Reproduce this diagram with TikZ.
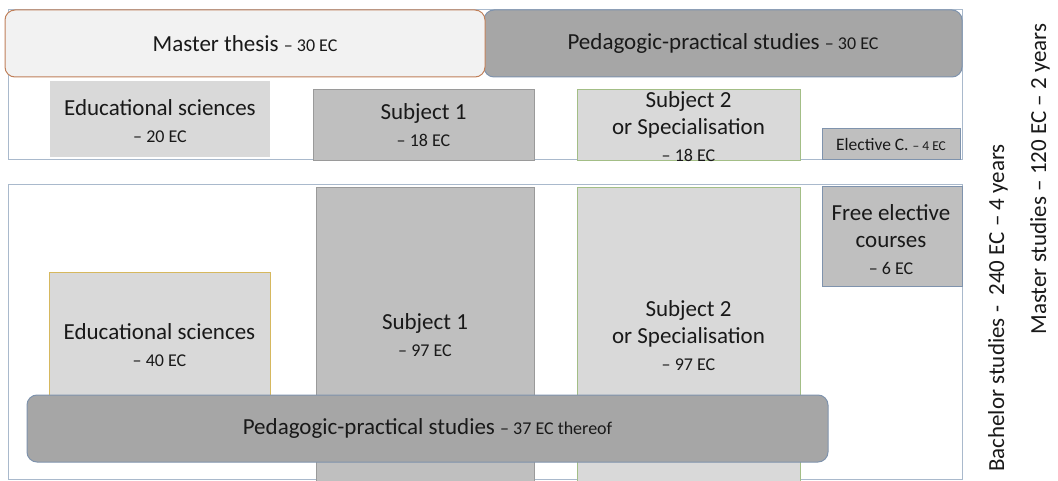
\documentclass[tikz,border=0pt]{standalone}
\usepackage{fontspec}
\setmainfont{Carlito}
\definecolor{thesisfill}{HTML}{F2F2F2}
\definecolor{thesisline}{HTML}{C0805A}
\definecolor{darkgray}{HTML}{A6A6A6}
\definecolor{midgray}{HTML}{BFBFBF}
\definecolor{lightgray}{HTML}{D9D9D9}
\definecolor{blueline}{HTML}{7F93AD}
\definecolor{frameline}{HTML}{A9B9CC}
\definecolor{greenline}{HTML}{A3BE86}
\definecolor{yellowline}{HTML}{D6B85E}
\definecolor{grayline}{HTML}{9A9A9A}
\tikzset{
  big/.style={font=\fontsize{23}{27}\selectfont},
  frame/.style={draw=frameline, line width=1pt, fill=white},
  blk/.style={inner sep=0pt, align=center, big, text=black!90},
  rnd/.style={blk, rounded corners=10pt, line width=1pt},
}
\newcommand{\ec}[1]{{\fontsize{18}{20}\selectfont #1}}
\begin{document}
\begin{tikzpicture}[x=1pt,y=-1pt]
\useasboundingbox (0,0) rectangle (1058,481);
% frames
\node[frame, minimum width=954pt, minimum height=150pt] (mframe) at (485,85) {};
\node[frame, minimum width=954pt, minimum height=294pt] (bframe) at (485,332) {};
% master
\node[rnd, fill=darkgray, draw=blueline, minimum width=478pt, minimum height=67pt] (mped) at (723,43.5) {Pedagogic-practical studies \ec{– 30 EC}};
\node[rnd, fill=thesisfill, draw=thesisline, minimum width=480pt, minimum height=67pt] (thesis) at (245,43.5) {Master thesis \ec{– 30 EC}};
\node[blk, fill=lightgray, minimum width=220pt, minimum height=76pt] (medu) at (160,119) {};
\node[blk] (medut) at (160,121.5) {Educational sciences\\\ec{– 20 EC}};
\node[blk, fill=midgray, draw=grayline, minimum width=221pt, minimum height=71pt] (msub1) at (423.5,124.5) {};
\node[blk] (msub1t) at (423.5,125.5) {Subject 1\\\ec{– 18 EC}};
\node[blk, fill=lightgray, draw=greenline, minimum width=223pt, minimum height=71pt] (msub2) at (688.5,124.5) {};
\node[blk] (msub2t) at (688.5,127) {Subject 2\\or Specialisation\\\ec{– 18 EC}};
\node[blk, fill=midgray, draw=blueline, line width=1pt, minimum width=138pt, minimum height=31pt, font=\fontsize{17.5}{20}\selectfont] (melec) at (891,144.5) {Elective C. {\fontsize{13.5}{15}\selectfont – 4 EC}};
% bachelor
\node[blk, fill=lightgray, draw=yellowline, minimum width=221pt, minimum height=148pt] (bedu) at (159.5,346) {};
\node[blk] (bedut) at (159.5,345) {Educational sciences\\\ec{– 40 EC}};
\node[blk, fill=midgray, draw=grayline, minimum width=218pt, minimum height=294pt] (bsub1) at (425,334) {};
\node[blk] (bsub1t) at (425,335) {Subject 1\\\ec{– 97 EC}};
\node[blk, fill=lightgray, draw=greenline, minimum width=223pt, minimum height=294pt] (bsub2) at (688.5,334) {};
\node[blk] (bsub2t) at (688.5,336) {Subject 2\\or Specialisation\\\ec{– 97 EC}};
\node[blk, fill=midgray, draw=blueline, line width=1pt, minimum width=140pt, minimum height=100pt] (bfree) at (892,237) {};
\node[blk] (bfreet) at (891,240) {Free elective\\courses\\\ec{– 6 EC}};
\node[rnd, fill=darkgray, draw=blueline, minimum width=801pt, minimum height=67pt] (bped) at (427.5,428.5) {Pedagogic-practical studies \ec{– 37 EC thereof}};
% side labels
\node[big, rotate=90, text=black!90, inner sep=0pt] (blab) at (998,308) {Bachelor studies -\ \ 240 EC – 4 years};
\node[big, rotate=90, text=black!90, inner sep=0pt] (mlab) at (1040,179) {Master studies – 120 EC – 2 years};
\end{tikzpicture}
\end{document}
